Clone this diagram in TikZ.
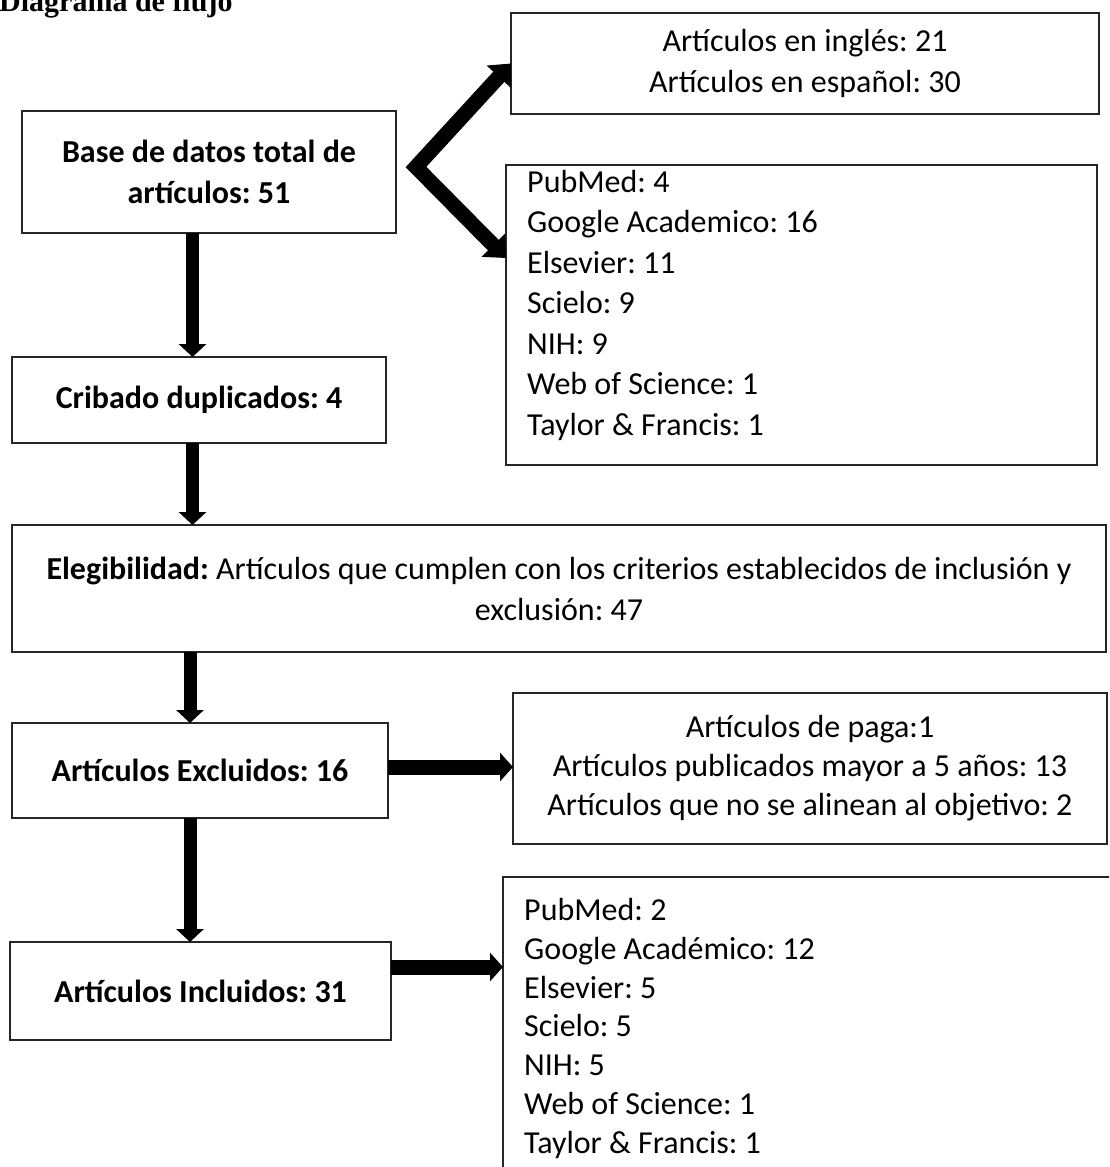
\documentclass[tikz,border=0pt]{standalone}
\usepackage{fontspec}
\setmainfont{Carlito}
\newfontfamily\titlefont{Liberation Serif}
\usetikzlibrary{arrows.meta,calc}
\frenchspacing
\begin{document}
\begin{tikzpicture}[x=1pt,y=-1pt,
  box/.style={draw=black!85, line width=1.3pt, inner sep=0pt, outer sep=0pt, align=center,
              font=\fontsize{32}{41}\selectfont},
  lst/.style={inner sep=0pt, align=left, anchor=north west, font=\fontsize{32}{40.5}\selectfont},
  vflow/.style={line width=13pt, -{Triangle[width=27pt,length=13pt]}},
  hflow/.style={line width=15pt, -{Triangle[width=28pt,length=13pt]}},
  fork/.style={line width=15pt, line join=miter, {Triangle[width=32pt,length=18pt]}-{Triangle[width=32pt,length=18pt]}},
]
\clip (0,0) rectangle (1109,1167);
\useasboundingbox (0,0) rectangle (1109,1167);

\node[anchor=base west, inner sep=0pt, font=\titlefont\bfseries\fontsize{30}{36}\selectfont] (title) at (-1,11) {Diagrama de flujo};

\node[box, minimum width=374pt, minimum height=122pt] (A) at (209,172) {\bfseries Base de datos total de\\\bfseries artículos: 51};
\node[box, minimum width=588pt, minimum height=101pt] (B) at (805,63.5) {Artículos en inglés: 21\\Artículos en español: 30};
\node[box, minimum width=591pt, minimum height=300pt] (C) at (801.5,315) {};
\node[lst] (Ct) at (527,170) {PubMed: 4\\Google Academico: 16\\Elsevier: 11\\Scielo: 9\\NIH: 9\\Web of Science: 1\\Taylor \& Francis: 1};
\node[box, minimum width=374pt, minimum height=86pt] (Cr) at (199,400) {\bfseries Cribado duplicados: 4};
\node[box, minimum width=1094pt, minimum height=127pt] (E) at (559,588.5) {\textbf{Elegibilidad:} Artículos que cumplen con los criterios establecidos de inclusión y\\exclusión: 47};
\node[box, minimum width=376pt, minimum height=95pt] (X) at (200,770.5) {\bfseries Artículos Excluidos: 16};
\node[box, minimum width=594pt, minimum height=151pt, font=\fontsize{32}{39}\selectfont] (D) at (810,768.5) {Artículos de paga:1\\Artículos publicados mayor a 5 años: 13\\Artículos que no se alinean al objetivo: 2};
\node[box, minimum width=381pt, minimum height=98pt] (I) at (200.5,991) {\bfseries Artículos Incluidos: 31};
\node[box, minimum width=617pt, minimum height=303pt] (F) at (811.5,1028.5) {};
\node[lst, font=\fontsize{32}{38.8}\selectfont] (Ft) at (524,898) {PubMed: 2\\Google Académico: 12\\Elsevier: 5\\Scielo: 5\\NIH: 5\\Web of Science: 1\\Taylor \& Francis: 1};

\coordinate (c1) at (192.5,0);
\coordinate (c2) at (190,0);
\coordinate (r1) at (0,767);
\coordinate (r2) at (0,967);
\coordinate (v) at (416,167);
\coordinate (ctip) at ($(C.west)+(0,-57)$);

\draw[vflow] (A.south -| c1) -- (Cr.north -| c1);
\draw[vflow] (Cr.south -| c1) -- (E.north -| c1);
\draw[vflow] (E.south -| c2) -- (X.north -| c2);
\draw[vflow] (X.south -| c2) -- (I.north -| c2);
\draw[hflow] (X.east |- r1) -- (D.west |- r1);
\draw[hflow] (I.east |- r2) -- (F.west |- r2);
\draw[fork] (B.west) -- (v) -- (ctip);
\end{tikzpicture}
\end{document}
